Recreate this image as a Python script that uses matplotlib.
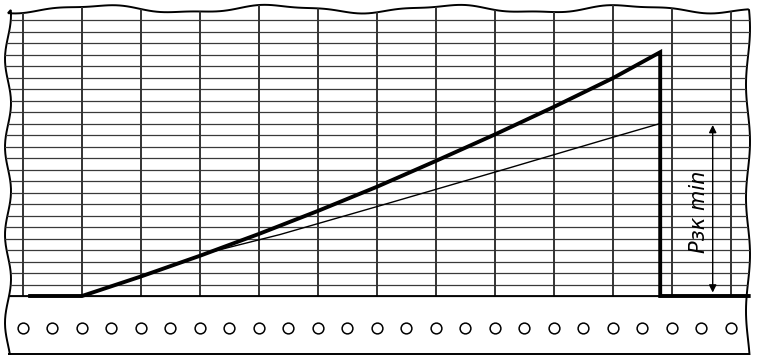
import matplotlib
matplotlib.use("Agg")
import matplotlib.pyplot as plt
from matplotlib.patches import Polygon
import numpy as np

# unidades de la cuadricula: 1 division en x = 59 px, 1 division en y = 11.5 px
grid_x = list(range(0, 13))
grid_y = list(range(0, 25))
holes_x = [k * 0.5 for k in range(25)]
hole_y = -2.78

# curva gruesa (registro de presion)
thick_x = [0.12, 1.0, 2.0, 3.0, 4.0, 5.0, 6.0, 7.0, 8.0, 9.0, 10.0, 10.80, 10.80, 12.3]
thick_y = [0.0, 0.0, 1.7, 3.5, 5.4, 7.4, 9.5, 11.75, 14.05, 16.45, 18.95, 21.2, 0.0, 0.0]

# linea fina
thin_x = [3.2, 4.36, 6.05, 8.25, 10.03, 10.80]
thin_y = [3.85, 5.35, 7.85, 11.15, 13.85, 15.0]

# flecha de Pзк min
arrow_x = 11.69
arrow_y0 = 0.3
arrow_y1 = 14.87
label = "Pзк min"

fig = plt.figure(figsize=(7.57, 3.57), dpi=100)
ax = fig.add_axes([0, 0, 1, 1])
ax.set_xlim(-23 / 59, (757 - 23) / 59)
ax.set_ylim((296 - 357) / 11.5, 296 / 11.5)
ax.axis("off")

# borde del papel (ondulado, solo decorativo)
def px2x(p):
    return (np.asarray(p) - 23) / 59.0

def px2y(p):
    return (296 - np.asarray(p)) / 11.5

tx = np.linspace(8, 748, 200)
ty = 9 + 3.5 * np.sin(tx / 28.0 + 1.2) + 1.0 * np.sin(tx / 11.0)
ry = np.linspace(10, 354, 80)
rx = 748 + 2.0 * np.sin(ry / 18.0)
by = np.full(2, 354.0)
bx = np.array([748, 8])
ly = np.linspace(354, 10, 80)
lx = 8 + 3.0 * np.sin(ly / 14.0 + 0.5)

edge_x = np.concatenate([tx, rx, bx, lx])
edge_y = np.concatenate([ty, ry, by, ly])
paper = Polygon(np.column_stack([px2x(edge_x), px2y(edge_y)]), closed=True,
                facecolor="white", edgecolor="black", linewidth=1.4, zorder=1)
ax.add_patch(paper)

# cuadricula
for gy in grid_y:
    ln, = ax.plot([-0.5, 12.6], [gy, gy], color="#3a3a3a", lw=0.9, zorder=2)
    ln.set_clip_path(paper)
for gx in grid_x:
    ln, = ax.plot([gx, gx], [0, 26], color="#333333", lw=1.4, zorder=2)
    ln.set_clip_path(paper)
ln, = ax.plot([-0.5, 12.6], [0, 0], color="black", lw=1.3, zorder=2)
ln.set_clip_path(paper)

# perforaciones
ax.scatter(holes_x, [hole_y] * len(holes_x), s=60, facecolors="white",
           edgecolors="black", linewidths=1.1, zorder=3)

# curvas
ax.plot(thick_x, thick_y, color="black", lw=2.8, solid_joinstyle="miter", zorder=4)
ax.plot(thin_x, thin_y, color="black", lw=1.0, zorder=4)

# flecha y texto
ax.annotate("", xy=(arrow_x, arrow_y1), xytext=(arrow_x, arrow_y0),
            arrowprops=dict(arrowstyle="<|-|>", color="black", lw=1.0,
                            mutation_scale=11, shrinkA=0, shrinkB=0), zorder=5)
ax.text(11.46, 7.3, label, rotation=90, ha="center", va="center",
        fontsize=15, style="italic", family="DejaVu Sans", zorder=5)

plt.savefig("out.png", dpi=100)
